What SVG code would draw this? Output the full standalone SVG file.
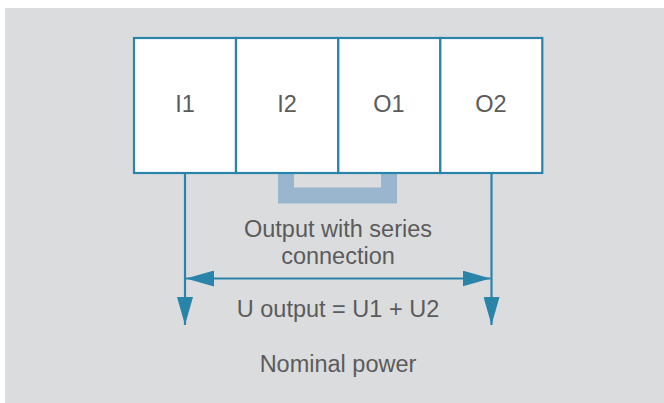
<svg xmlns="http://www.w3.org/2000/svg" width="664" height="403" viewBox="0 0 664 403">
<defs>
<style>
.box{fill:#ffffff;stroke:#2a84aa;stroke-width:2.2}
.t{font-family:"Liberation Sans",Arial,sans-serif;font-size:23.5px;fill:#5b5b5b;text-anchor:middle}
.ln{stroke:#2a84aa;stroke-width:2.2;fill:none}
.ah{fill:#2a84aa}
</style>
<marker id="arr" viewBox="0 0 28 16" refX="28" refY="8" markerWidth="28" markerHeight="16" markerUnits="userSpaceOnUse" orient="auto-start-reverse">
<path class="ah" d="M0,0 L28,8 L0,16 Z"/>
</marker>
</defs>
<rect x="5" y="8" width="659" height="395" fill="#dbdcde"/>
<g id="bridge">
<path d="M286,173 V195.5 H389 V173" fill="none" stroke="#9ab6ce" stroke-width="16"/>
</g>
<g id="I1"><rect class="box" x="134" y="38" width="102" height="135"/><text class="t" x="185" y="112">I1</text></g>
<g id="I2"><rect class="box" x="236" y="38" width="102.3" height="135"/><text class="t" x="287" y="112">I2</text></g>
<g id="O1"><rect class="box" x="338.3" y="38" width="102" height="135"/><text class="t" x="389" y="112">O1</text></g>
<g id="O2"><rect class="box" x="440.3" y="38" width="102" height="135"/><text class="t" x="491" y="112">O2</text></g>
<g id="connectors">
<line class="ln" x1="185" y1="173" x2="185" y2="325" marker-end="url(#arr)"/>
<line class="ln" x1="491.5" y1="173" x2="491.5" y2="325" marker-end="url(#arr)"/>
<line class="ln" x1="186" y1="278.5" x2="490.5" y2="278.5" marker-start="url(#arr)" marker-end="url(#arr)"/>
</g>
<g id="labels">
<text class="t" x="338" y="237">Output with series</text>
<text class="t" x="338" y="264">connection</text>
<text class="t" x="338" y="317">U output = U1 + U2</text>
<text class="t" x="338" y="372">Nominal power</text>
</g>
</svg>
